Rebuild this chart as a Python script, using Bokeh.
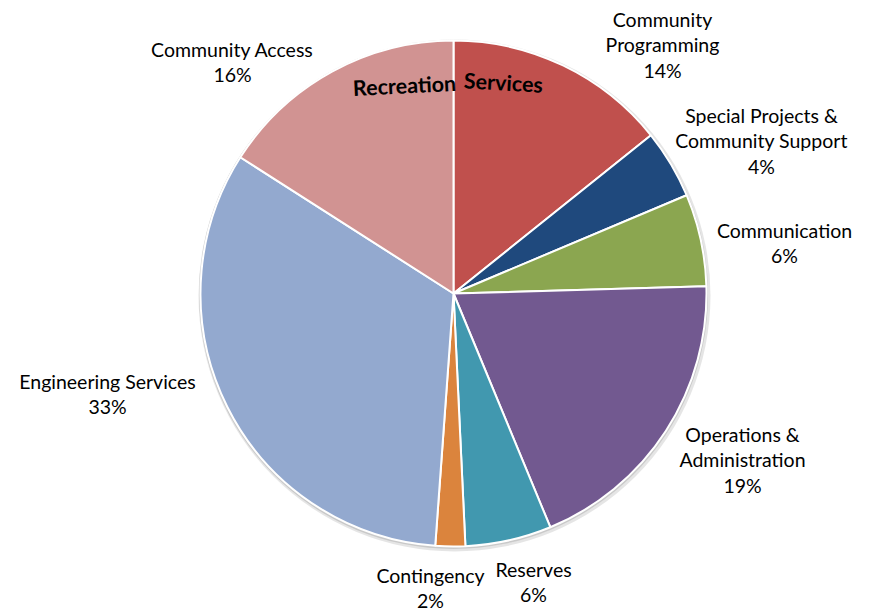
import numpy as np
from bokeh.plotting import figure
from bokeh.models import ColumnDataSource
from bokeh.core.properties import value
from bokeh.embed import file_html
from bokeh.resources import INLINE

# ---- data (clockwise from 12 o'clock) ----
categories = ["Community Programming", "Special Projects & Community Support",
              "Communication", "Operations & Administration", "Reserves",
              "Contingency", "Engineering Services", "Community Access"]
shares = [14.25, 4.4, 5.9, 19.2, 5.5, 1.9, 32.9, 15.95]
pct_labels = ["14%", "4%", "6%", "19%", "6%", "2%", "33%", "16%"]
label_lines = [["Community", "Programming"], ["Special Projects &", "Community Support"],
               ["Communication"], ["Operations &", "Administration"], ["Reserves"],
               ["Contingency"], ["Engineering Services"], ["Community Access"]]
colors = ["#C0504D", "#1F497D", "#8BA650", "#725990", "#4198AF",
          "#DB843D", "#93A9CF", "#D19392"]
title = "Recreation Services"

# ---- layout (pixel space, y up) ----
W, H = 869, 613
cx, cy, R = 453, H - 293, 253
# label anchor (centre x, first-line y in screen px)
label_pos = [(662, 19), (761, 115), (784, 230), (742, 434),
             (533, 569), (430, 575), (107, 381), (232, 49)]
line_step = 25.3

frac = np.array(shares) / np.sum(shares)
cum = np.concatenate([[0], np.cumsum(frac)])
start = np.pi / 2 - 2 * np.pi * cum[:-1]
end = np.pi / 2 - 2 * np.pi * cum[1:]

p = figure(width=W, height=H, x_range=(0, W), y_range=(0, H),
           output_backend="svg", toolbar_location=None,
           min_border=0, outline_line_color=None)
p.axis.visible = False
p.grid.visible = False
p.background_fill_color = "white"
p.border_fill_color = "white"

# soft shadow
p.circle(x=[cx + 1], y=[cy - 2], radius=R + 3, fill_color="#000000",
         fill_alpha=0.10, line_color=None)
p.circle(x=[cx], y=[cy - 1], radius=R + 1.5, fill_color="#000000",
         fill_alpha=0.12, line_color=None)

src = ColumnDataSource(dict(start=start, end=end, color=colors, cat=categories))
p.wedge(x=cx, y=cy, radius=R, start_angle="start", end_angle="end",
        direction="clock", fill_color="color", line_color="white",
        line_width=2, source=src)

# labels
xs, ys, ts = [], [], []
for (lx, ly), lines, pct in zip(label_pos, label_lines, pct_labels):
    for k, t in enumerate(lines + [pct]):
        xs.append(lx)
        ys.append(H - (ly + k * line_step))
        ts.append(t)
p.text(x=xs, y=ys, text=ts, text_font=value("Lato"), text_font_size="19.5px",
       text_color="#000000", text_align="center", text_baseline="middle")

# arched title
w1, w2 = title.split(" ", 1)
p.text(x=[404], y=[H - 85], text=[w1], angle=0.05, text_font=value("Lato"),
       text_font_style="bold", text_font_size="21.5px", text_color="#000000",
       text_align="center", text_baseline="middle")
p.text(x=[503], y=[H - 82], text=[w2], angle=-0.055, text_font=value("Lato"),
       text_font_style="bold", text_font_size="21.5px", text_color="#000000",
       text_align="center", text_baseline="middle")

open("out.html", "w").write(file_html(p, INLINE))
